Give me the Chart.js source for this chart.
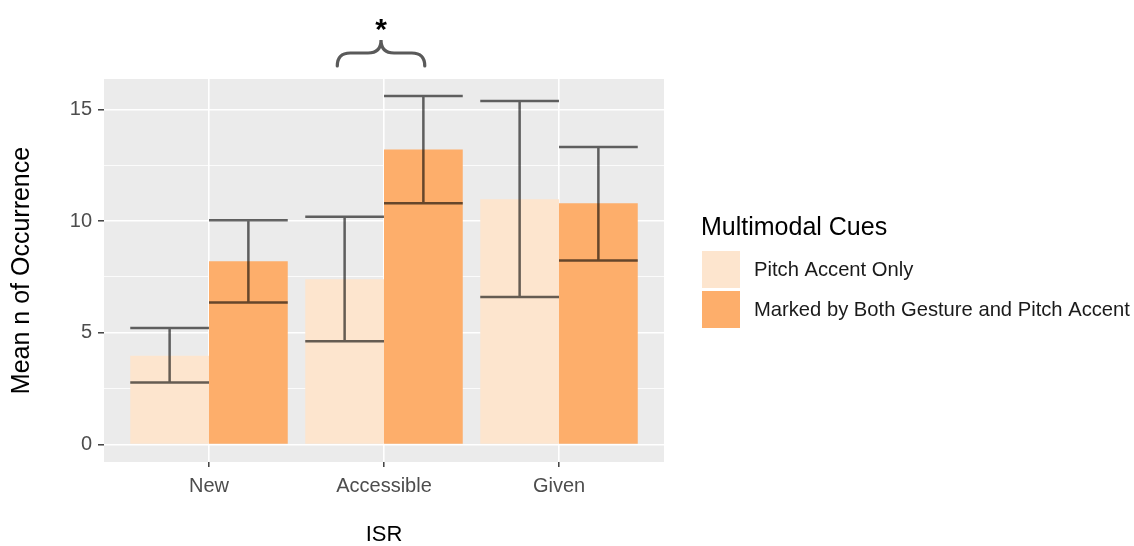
<!DOCTYPE html>
<html><head><meta charset="utf-8">
<script src="https://cdn.jsdelivr.net/npm/chart.js@4/dist/chart.umd.min.js"></script>
<style>html,body{margin:0;padding:0;background:#fff}</style>
</head><body>
<canvas id="c" width="1134" height="546" style="width:1134px;height:546px;display:block"></canvas>
<script>
const categories = ['New', 'Accessible', 'Given'];
const seriesNames = ['Pitch Accent Only', 'Marked by Both Gesture and Pitch Accent'];
const pitchOnly = [3.98, 7.40, 10.98];
const pitchLower = [2.78, 4.62, 6.60];
const pitchUpper = [5.22, 10.20, 15.38];
const bothCues = [8.20, 13.20, 10.80];
const bothLower = [6.36, 10.80, 8.24];
const bothUpper = [10.04, 15.60, 13.32];
const yMajorTicks = [0, 5, 10, 15];
const yMinorTicks = [2.5, 7.5, 12.5];
const colors = ['#FDE5CE', '#FDAE6B'];
const FONT = '"Liberation Sans", Arial, sans-serif';

const toXY = arr => arr.map((v, i) => ({x: i + 1, y: v}));

const panelBg = {
  id: 'panelBg',
  beforeDraw(chart) {
    const {ctx, chartArea: a} = chart;
    ctx.save();
    ctx.fillStyle = '#EBEBEB';
    ctx.fillRect(a.left, a.top, a.right - a.left, a.bottom - a.top);
    ctx.restore();
  }
};

const errorBars = {
  id: 'errorBars',
  afterDatasetsDraw(chart) {
    const ctx = chart.ctx, ys = chart.scales.y;
    ctx.save();
    ctx.strokeStyle = 'rgba(0,0,0,0.6)';
    ctx.lineWidth = 2.5;
    chart.data.datasets.forEach((ds, di) => {
      const meta = chart.getDatasetMeta(di);
      meta.data.forEach((bar, i) => {
        const lo = ys.getPixelForValue(ds.errLow[i]);
        const hi = ys.getPixelForValue(ds.errHigh[i]);
        const half = bar.width / 2;
        ctx.beginPath();
        ctx.moveTo(bar.x, lo); ctx.lineTo(bar.x, hi);
        ctx.moveTo(bar.x - half, lo); ctx.lineTo(bar.x + half, lo);
        ctx.moveTo(bar.x - half, hi); ctx.lineTo(bar.x + half, hi);
        ctx.stroke();
      });
    });
    ctx.restore();
  }
};

const extras = {
  id: 'extras',
  afterDraw(chart) {
    const ctx = chart.ctx, xs = chart.scales.x;
    ctx.save();
    // significance brace over "Accessible"
    const c = 1.983, hw = 0.25;
    const xL = xs.getPixelForValue(c - hw), xR = xs.getPixelForValue(c + hw), xc = xs.getPixelForValue(c);
    const yTop = 40, yMid = 53, yBot = 66, r = 13;
    ctx.strokeStyle = '#5A5A5A';
    ctx.lineWidth = 3.2;
    ctx.lineCap = 'round';
    ctx.beginPath();
    ctx.moveTo(xL, yBot);
    ctx.quadraticCurveTo(xL, yMid, xL + r, yMid);
    ctx.lineTo(xc - r, yMid);
    ctx.quadraticCurveTo(xc, yMid, xc, yTop);
    ctx.quadraticCurveTo(xc, yMid, xc + r, yMid);
    ctx.lineTo(xR - r, yMid);
    ctx.quadraticCurveTo(xR, yMid, xR, yBot);
    ctx.stroke();
    ctx.fillStyle = '#000';
    ctx.font = 'bold 30px ' + FONT;
    ctx.textAlign = 'center';
    ctx.textBaseline = 'alphabetic';
    ctx.fillText('*', xc, 39);

    // legend
    ctx.textAlign = 'left';
    ctx.textBaseline = 'middle';
    ctx.fillStyle = '#000';
    ctx.font = '25px ' + FONT;
    ctx.fillText('Multimodal Cues', 701, 228);
    ctx.font = '20.2px ' + FONT;
    chart.data.datasets.forEach((ds, i) => {
      const top = 251 + i * 40;
      ctx.fillStyle = ds.backgroundColor;
      ctx.fillRect(702, top, 38, 37);
      ctx.fillStyle = '#1A1A1A';
      ctx.fillText(ds.label, 754, top + 19);
    });
    ctx.restore();
  }
};

new Chart(document.getElementById('c'), {
  type: 'bar',
  data: {
    datasets: [
      {label: seriesNames[0], data: toXY(pitchOnly), errLow: pitchLower, errHigh: pitchUpper, backgroundColor: colors[0]},
      {label: seriesNames[1], data: toXY(bothCues), errLow: bothLower, errHigh: bothUpper, backgroundColor: colors[1]}
    ]
  },
  options: {
    responsive: false,
    devicePixelRatio: 1,
    animation: false,
    categoryPercentage: 0.9,
    barPercentage: 1.0,
    borderWidth: 0,
    layout: {padding: {top: 79, right: 470, left: 0, bottom: 0}},
    plugins: {legend: {display: false}, tooltip: {enabled: false}},
    scales: {
      x: {
        type: 'linear', min: 0.4, max: 3.6, offset: false,
        afterBuildTicks: s => { s.ticks = categories.map((c, i) => ({value: i + 1})); },
        afterFit: s => { s.height = 84; },
        border: {display: false},
        grid: {offset: false, color: '#FFFFFF', lineWidth: 1.6, tickColor: '#333333', tickLength: 5, tickWidth: 1.4},
        ticks: {autoSkip: false, maxRotation: 0, padding: 7, color: '#4D4D4D', font: {family: FONT, size: 20},
                callback: v => categories[Math.round(v) - 1]},
        title: {display: true, text: 'ISR', color: '#000', font: {family: FONT, size: 22, lineHeight: 1}, padding: {top: 0, bottom: 0}}
      },
      y: {
        min: -0.78, max: 16.36,
        afterBuildTicks: s => { s.ticks = yMajorTicks.concat(yMinorTicks).sort((a, b) => a - b).map(v => ({value: v})); },
        afterFit: s => { s.width = 104; },
        border: {display: false},
        grid: {
          color: '#FFFFFF',
          lineWidth: c => yMajorTicks.includes(c.tick.value) ? 1.6 : 0.8,
          tickColor: c => yMajorTicks.includes(c.tick.value) ? '#333333' : 'rgba(0,0,0,0)',
          tickLength: 6, tickWidth: 1.4
        },
        ticks: {padding: 6, color: '#4D4D4D', font: {family: FONT, size: 20},
                callback: v => yMajorTicks.includes(v) ? String(v) : ''},
        title: {display: true, text: 'Mean n of Occurrence', color: '#000', font: {family: FONT, size: 25, lineHeight: 1.2}, padding: {top: 7, bottom: 0}}
      }
    }
  },
  plugins: [panelBg, errorBars, extras]
});
</script>
</body></html>
